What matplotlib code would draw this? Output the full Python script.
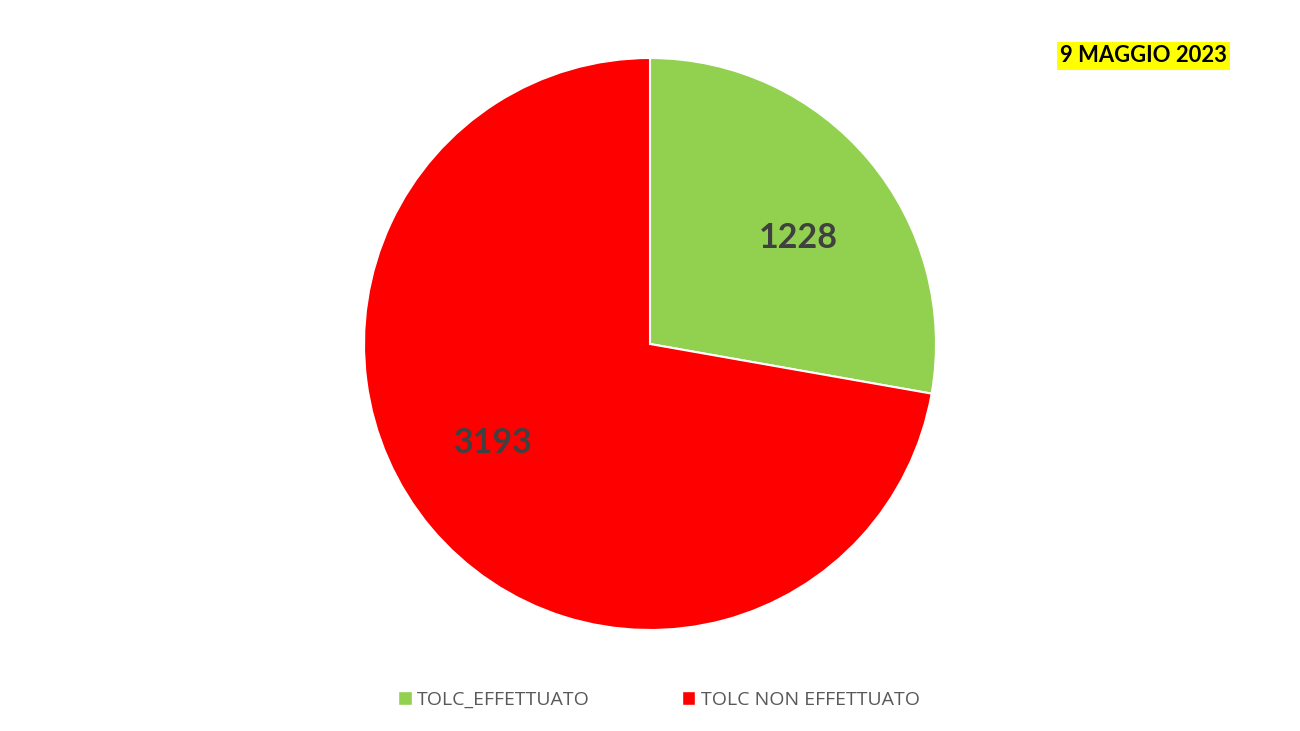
import matplotlib
matplotlib.use("Agg")
import matplotlib.pyplot as plt
from matplotlib.patches import Patch

categories = ["TOLC_EFFETTUATO", "TOLC NON EFFETTUATO"]
values = [1228, 3193]
colors = ["#92D050", "#FF0000"]
title_text = "9 MAGGIO 2023"
# label placement (fraction of radius), as in the reference's best-fit layout
label_xy = [(0.517, 0.372), (-0.549, -0.345)]

W, H = 1300, 731
fig = plt.figure(figsize=(W / 100, H / 100), dpi=100)
fig.patch.set_facecolor("white")

cx, cy, r = 650, 344, 286
ax = fig.add_axes([(cx - r) / W, (H - cy - r) / H, 2 * r / W, 2 * r / H])
total = sum(values)
wedges, texts, autotexts = ax.pie(
    values, colors=colors, startangle=90, counterclock=False, radius=1,
    autopct=lambda p: f"{round(p * total / 100):d}", pctdistance=0.64,
    wedgeprops=dict(edgecolor="white", linewidth=1.5),
    textprops=dict(fontsize=24.5, fontweight="bold", color="#404040", family=["Lato", "DejaVu Sans"]),
)
for t, xy in zip(autotexts, label_xy):
    t.set_position(xy)
ax.set_xlim(-1, 1)
ax.set_ylim(-1, 1)
ax.set_aspect("equal")
ax.axis("off")

fig.text(1227 / W, 1 - 56 / H, title_text, ha="right", va="center", fontsize=15.8,
         fontweight="bold", family=["Lato", "DejaVu Sans"], color="black",
         bbox=dict(boxstyle="square,pad=0.15", facecolor="#FFFF00", edgecolor="none"))

handles = [Patch(facecolor=c, edgecolor="white", label=l) for c, l in zip(colors, categories)]
leg = fig.legend(handles=handles, loc="center", bbox_to_anchor=(659 / W, 1 - 700 / H), ncol=2,
                 frameon=False, handlelength=0.7, handleheight=0.7,
                 handletextpad=0.3, columnspacing=4.7,
                 prop=dict(family=["Open Sans", "DejaVu Sans"], size=14))
for t in leg.get_texts():
    t.set_color("#595959")

fig.savefig("out.png", dpi=100, facecolor="white")
